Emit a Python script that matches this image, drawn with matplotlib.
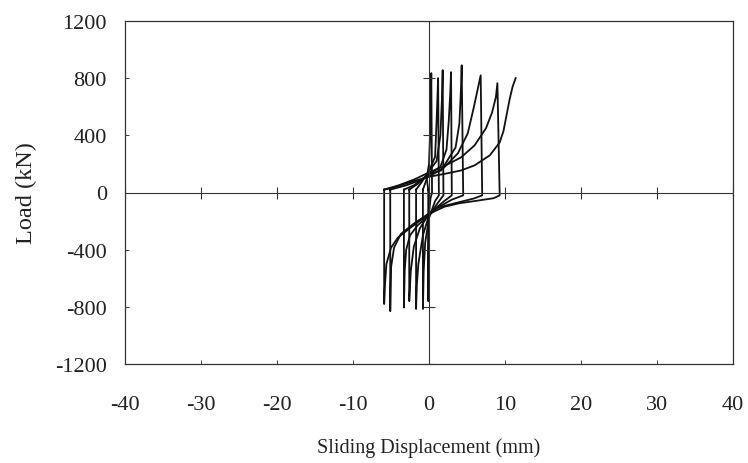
import numpy as np
import matplotlib.pyplot as plt

# axis ticks
x_ticks = [-40, -30, -20, -10, 0, 10, 20, 30, 40]
y_ticks = [-1200, -800, -400, 0, 400, 800, 1200]

# hysteresis cycles: displacement (mm) and load (kN)
disp_cycles = [
    [-0.1, -0.3, 0.0, 0.2, 0.3, 0.4, 0.2, 0.0, -0.05, -0.1, -0.1],
    [-0.8, -0.4, 0.0, 0.8, 1.0, 1.2, 1.3, 0.8, 0.0, -0.5, -0.7, -0.8, -0.8],
    [-1.7, -1.0, 0.0, 1.0, 1.5, 1.7, 1.8, 1.9, 1.2, 0.0, -0.8, -1.4, -1.6, -1.7, -1.7],
    [-2.6, -1.5, 0.0, 1.5, 2.3, 2.6, 2.8, 2.9, 3.0, 2.0, 0.0, -1.2, -2.0, -2.4, -2.6, -2.6],
    [-3.3, -2.0, 0.0, 1.6, 3.5, 4.0, 4.2, 4.3, 4.5, 3.0, 1.0, 0.0, -1.5, -2.5, -3.0, -3.2, -3.3, -3.3],
    [-5.1, -3.0, -1.0, 0.7, 2.0, 3.8, 5.1, 5.9, 6.8, 7.0, 5.9, 3.8, 1.2, -0.1, -2.0, -3.7, -4.6, -5.0, -5.1, -5.1],
    [-5.9, -4.0, -2.0, 0.0, 2.0, 4.2, 6.0, 7.5, 8.3, 8.8, 9.0, 9.3, 8.5, 6.0, 4.0, 2.0, 0.0, -2.4, -4.1, -5.0, -5.6, -5.8, -5.9, -5.9],
    [-5.9, -4.0, -2.0, 0.0, 2.0, 4.2, 6.0, 8.0, 9.3, 9.8, 10.2, 10.6, 11.0, 11.4],
]
load_cycles = [
    [20, 100, 200, 500, 835, 0, -40, -150, -400, -760, 20],
    [20, 80, 150, 250, 500, 800, -20, -60, -180, -350, -550, -815, 20],
    [20, 70, 150, 220, 400, 650, 856, -20, -70, -160, -300, -500, -650, -815, 20],
    [20, 60, 130, 180, 300, 500, 700, 842, -20, -60, -150, -250, -380, -550, -760, 20],
    [20, 50, 130, 154, 316, 484, 716, 890, -20, -50, -110, -160, -230, -300, -400, -550, -805, 20],
    [20, 50, 90, 133, 176, 274, 414, 597, 820, -20, -42, -70, -105, -150, -218, -290, -386, -526, -830, 20],
    [20, 50, 90, 140, 185, 245, 330, 450, 560, 667, 765, -20, -40, -60, -75, -100, -150, -245, -316, -386, -500, -650, -780, 20],
    [20, 45, 80, 110, 130, 154, 190, 260, 350, 430, 540, 650, 740, 800],
]

plt.rcParams['font.family'] = ['Liberation Serif', 'DejaVu Serif']
plt.rcParams['axes.unicode_minus'] = False

fig = plt.figure(figsize=(7.48, 4.64), dpi=100)
ax = fig.add_axes([125 / 748, 1 - 365 / 464, 608 / 748, 343 / 464])

for d, l in zip(disp_cycles, load_cycles):
    ax.plot(d, l, color='#111111', lw=1.3)

# axes through the origin with their own tick marks
ax.axhline(0, color='#333333', lw=0.8)
ax.axvline(0, color='#333333', lw=0.8)
ax.plot(x_ticks, np.zeros(len(x_ticks)), ls='none', marker='|', ms=9,
        mew=0.8, color='#333333')
ax.plot(np.zeros(len(y_ticks)), y_ticks, ls='none', marker='_', ms=9,
        mew=0.8, color='#333333')

ax.set_xlim(-40, 40)
ax.set_ylim(-1200, 1200)
ax.set_xticks(x_ticks)
ax.set_yticks(y_ticks)
ax.tick_params(direction='in', length=3, width=0.6, labelsize=16, colors='#222222')
ax.tick_params(axis='x', pad=22)
ax.tick_params(axis='y', pad=13)
for s in ax.spines.values():
    s.set_linewidth(0.9)
    s.set_color('#333333')

ax.set_xlabel('Sliding Displacement (mm)', fontsize=14.5, color='#222222')
ax.set_ylabel('Load (kN)', fontsize=17.5, color='#222222')
ax.xaxis.set_label_coords(0.5, -0.215)
ax.yaxis.set_label_coords(-0.145, 0.5)

fig.savefig('out.png', dpi=100)
